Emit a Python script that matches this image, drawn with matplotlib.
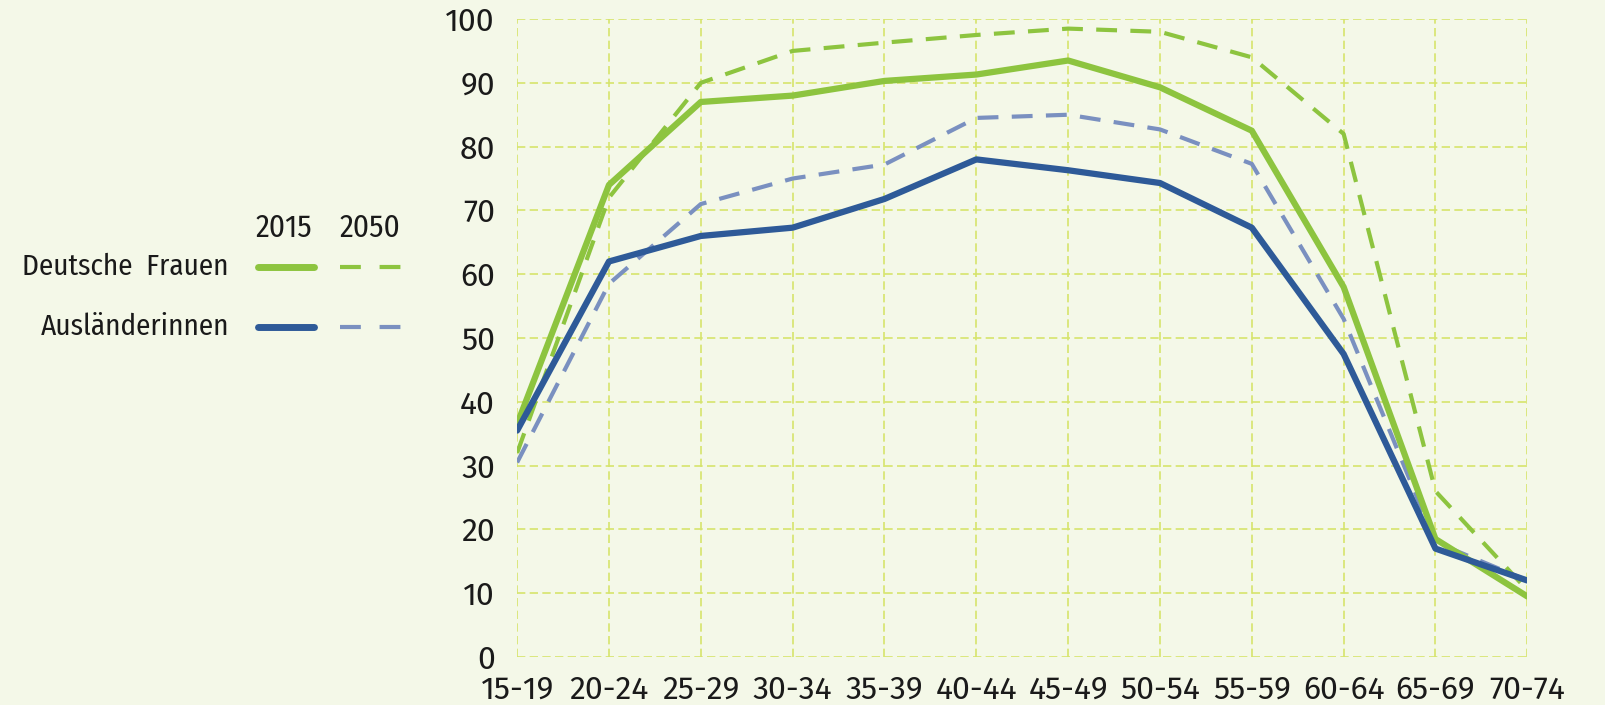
import matplotlib.pyplot as plt
import numpy as np

altersgruppen = ['15-19', '20-24', '25-29', '30-34', '35-39', '40-44',
                 '45-49', '50-54', '55-59', '60-64', '65-69', '70-74']
deutsche_2015 = [36.5, 74, 87, 88, 90.3, 91.3, 93.5, 89.3, 82.5, 58, 18.5, 9.5]
deutsche_2050 = [32, 72, 90, 95, 96.3, 97.5, 98.5, 98, 94, 82, 26, 10.5]
auslaender_2015 = [35.5, 62, 66, 67.3, 71.8, 78, 76.3, 74.3, 67.3, 47.5, 17, 12]
auslaender_2050 = [30.5, 58.5, 71, 75, 77.2, 84.5, 85, 82.7, 77.3, 53, 18, 12]

bg = '#f4f8e8'
gruen = '#8dc43f'
blau = '#2e5a98'
hellblau = '#7a90c0'
gitter = '#d6e46c'
schrift = '#1a1a1a'

plt.rcParams['font.family'] = ['Fira Sans', 'DejaVu Sans']

fig = plt.figure(figsize=(16.06, 7.05), dpi=100, facecolor=bg)
ax = fig.add_axes([0.322, 0.068, 0.629, 0.905], facecolor=bg)

x = np.arange(len(altersgruppen))
ax.plot(x, deutsche_2050, color=gruen, lw=3, ls=(0, (5, 3.2)))
ax.plot(x, auslaender_2050, color=hellblau, lw=3, ls=(0, (5, 3.2)))
ax.plot(x, deutsche_2015, color=gruen, lw=4.5, solid_capstyle='round')
ax.plot(x, auslaender_2015, color=blau, lw=4.5, solid_capstyle='round')

ax.set_xlim(0, len(altersgruppen) - 1)
ax.set_ylim(0, 100)
ax.set_xticks(x)
ax.set_xticklabels(altersgruppen)
ax.set_yticks(range(0, 101, 10))
ax.tick_params(length=0, labelsize=23, colors=schrift)
ax.tick_params(axis='y', pad=16)
ax.tick_params(axis='x', pad=13)
for lab in ax.get_yticklabels():
    lab.set_verticalalignment('center_baseline')
ax.grid(True, color=gitter, ls=(0, (5, 2.6)), lw=1.2)
ax.set_axisbelow(True)
for s in ax.spines.values():
    s.set_visible(False)

# Legende von Hand
fs = 21
leg_font = ['Fira Sans Condensed', 'DejaVu Sans']
fig.text(284 / 1606, 1 - 228 / 705, '2015', ha='center', va='center', fontsize=22.5,
         color=schrift, family=leg_font)
fig.text(370 / 1606, 1 - 228 / 705, '2050', ha='center', va='center', fontsize=22.5,
         color=schrift, family=leg_font)
zeilen = [('Deutsche  Frauen', 267, gruen, gruen), ('Ausländerinnen', 327, blau, hellblau)]
for name, yp, c1, c2 in zeilen:
    yf = 1 - yp / 705
    fig.text(229 / 1606, yf, name, ha='right', va='center', fontsize=fs, color=schrift,
             family=leg_font)
    fig.add_artist(plt.Line2D([258 / 1606, 314 / 1606], [yf, yf], color=c1, lw=5,
                              solid_capstyle='round', transform=fig.transFigure))
    fig.add_artist(plt.Line2D([340 / 1606, 401 / 1606], [yf, yf], color=c2, lw=3,
                              ls=(0, (5, 4.5)), transform=fig.transFigure))

fig.savefig('out.png', dpi=100, facecolor=bg)
